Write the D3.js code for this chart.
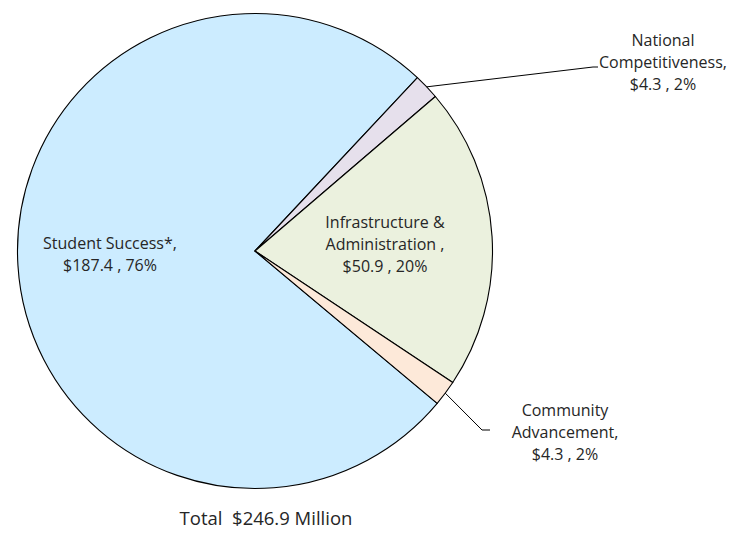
<!DOCTYPE html>
<html>
<head>
<meta charset="utf-8">
<script src="https://cdn.jsdelivr.net/npm/d3@7"></script>
<style>
  html, body { margin: 0; padding: 0; background: #fff; }
  svg { display: block; }
  text { font-family: "Open Sans", Lato, sans-serif; fill: #262626; white-space: pre; }
</style>
</head>
<body>
<svg id="chart" width="747" height="534"></svg>
<script>
// Budget allocation, $ millions
const categories = ["Student Success*", "National Competitiveness", "Infrastructure & Administration", "Community Advancement"];
const amounts = [187.4, 4.3, 50.9, 4.3];
const percents = [76, 2, 20, 2];
const colors = ["#CCECFF", "#E6E0EC", "#EBF1DE", "#FDE9D9"];
const totalLabel = "Total  $246.9 Million";

// Label lines per slice (text wrapping as displayed)
const labelLines = [
  ["Student Success*,", "$187.4 , 76%"],
  ["National", "Competitiveness,", "$4.3 , 2%"],
  ["Infrastructure &", "Administration ,", "$50.9 , 20%"],
  ["Community", "Advancement,", "$4.3 , 2%"]
];

const svg = d3.select("#chart");
const cx = 255, cy = 251, radius = 237.5;

const data = categories.map((c, i) => ({ name: c, value: amounts[i], pct: percents[i], color: colors[i], lines: labelLines[i] }));

// Student Success begins at ~130° clockwise from 12 o'clock
const start = 129.9 * Math.PI / 180;
const pie = d3.pie().value(d => d.value).sort(null)
  .startAngle(start).endAngle(start + 2 * Math.PI);
const arcs = pie(data);
const arc = d3.arc().innerRadius(0).outerRadius(radius);

const g = svg.append("g").attr("transform", `translate(${cx},${cy})`);

g.selectAll("path.slice")
  .data(arcs)
  .join("path")
  .attr("class", "slice")
  .attr("d", arc)
  .attr("fill", d => d.data.color)
  .attr("stroke", "#000")
  .attr("stroke-width", 1.1)
  .attr("stroke-linejoin", "round");

// Label anchor positions (chart-relative)
const labelPos = [
  { x: 110 - cx, y: 243 - cy },
  { x: 663 - cx, y: 40 - cy },
  { x: 385 - cx, y: 222 - cy },
  { x: 565 - cx, y: 410 - cy }
];
const lineH = 22;

// Leader lines for the two thin slices
const leaders = [
  { i: 1, elbow: [593 - cx, 67 - cy], end: [598 - cx, 67 - cy] },
  { i: 3, elbow: [482 - cx, 430 - cy], end: [490 - cx, 430 - cy] }
];
leaders.forEach(l => {
  const a = arcs[l.i];
  const mid = (a.startAngle + a.endAngle) / 2;
  const p0 = [radius * Math.sin(mid), -radius * Math.cos(mid)];
  g.append("polyline")
    .attr("points", [p0, l.elbow, l.end].map(p => p.join(",")).join(" "))
    .attr("fill", "none")
    .attr("stroke", "#000")
    .attr("stroke-width", 1);
});

arcs.forEach((a, i) => {
  const t = g.append("text")
    .attr("text-anchor", "middle")
    .attr("font-size", 16)
    .attr("x", labelPos[i].x)
    .attr("y", labelPos[i].y);
  a.data.lines.forEach((ln, k) => {
    t.append("tspan")
      .attr("x", labelPos[i].x)
      .attr("y", labelPos[i].y + k * lineH)
      .attr("dy", "0.35em")
      .text(ln);
  });
});

svg.append("text")
  .attr("x", 266)
  .attr("y", 519)
  .attr("dy", "0.35em")
  .attr("text-anchor", "middle")
  .attr("font-size", 18.5)
  .text(totalLabel);
</script>
</body>
</html>
